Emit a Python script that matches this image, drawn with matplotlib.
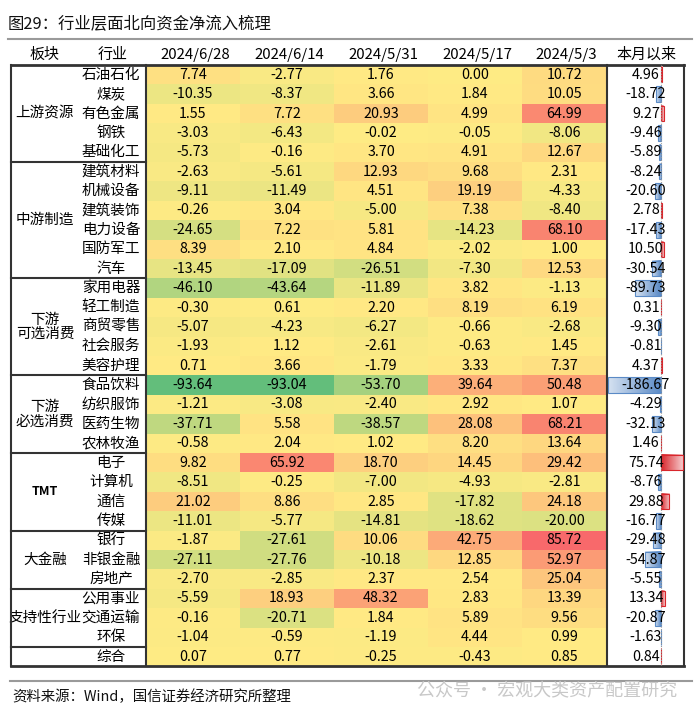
import numpy as np
import matplotlib
matplotlib.use("Agg")
import matplotlib.pyplot as plt
import matplotlib.transforms as mtransforms
from matplotlib.colors import LinearSegmentedColormap, TwoSlopeNorm

plt.rcParams["font.family"] = ["Noto Sans CJK SC", "DejaVu Sans"]

# ── Data ──────────────────────────────────────
dates = ["2024/6/28", "2024/6/14", "2024/5/31", "2024/5/17", "2024/5/3"]

sector_names = ["上游资源", "中游制造", "下游\n可选消费", "下游\n必选消费",
                "TMT", "大金融", "支持性行业", ""]
sector_sizes = [5, 6, 5, 4, 4, 3, 3, 1]

industries = ["石油石化", "煤炭", "有色金属", "钢铁", "基础化工",
              "建筑材料", "机械设备", "建筑装饰", "电力设备", "国防军工", "汽车",
              "家用电器", "轻工制造", "商贸零售", "社会服务", "美容护理",
              "食品饮料", "纺织服饰", "医药生物", "农林牧渔",
              "电子", "计算机", "通信", "传媒",
              "银行", "非银金融", "房地产",
              "公用事业", "交通运输", "环保",
              "综合"]

flow_0628 = [7.74, -10.35, 1.55, -3.03, -5.73,
             -2.63, -9.11, -0.26, -24.65, 8.39, -13.45,
             -46.10, -0.30, -5.07, -1.93, 0.71,
             -93.64, -1.21, -37.71, -0.58,
             9.82, -8.51, 21.02, -11.01,
             -1.87, -27.11, -2.70,
             -5.59, -0.16, -1.04,
             0.07]
flow_0614 = [-2.77, -8.37, 7.72, -6.43, -0.16,
             -5.61, -11.49, 3.04, 7.22, 2.10, -17.09,
             -43.64, 0.61, -4.23, 1.12, 3.66,
             -93.04, -3.08, 5.58, 2.04,
             65.92, -0.25, 8.86, -5.77,
             -27.61, -27.76, -2.85,
             18.93, -20.71, -0.59,
             0.77]
flow_0531 = [1.76, 3.66, 20.93, -0.02, 3.70,
             12.93, 4.51, -5.00, 5.81, 4.84, -26.51,
             -11.89, 2.20, -6.27, -2.61, -1.79,
             -53.70, -2.40, -38.57, 1.02,
             18.70, -7.00, 2.85, -14.81,
             10.06, -10.18, 2.37,
             48.32, 1.84, -1.19,
             -0.25]
flow_0517 = [0.00, 1.84, 4.99, -0.05, 4.91,
             9.68, 19.19, 7.38, -14.23, -2.02, -7.30,
             3.82, 8.19, -0.66, -0.63, 3.33,
             39.64, 2.92, 28.08, 8.20,
             14.45, -4.93, -17.82, -18.62,
             42.75, 12.85, 2.54,
             2.83, 5.89, 4.44,
             -0.43]
flow_0503 = [10.72, 10.05, 64.99, -8.06, 12.67,
             2.31, -4.33, -8.40, 68.10, 1.00, 12.53,
             -1.13, 6.19, -2.68, 1.45, 7.37,
             50.48, 1.07, 68.21, 13.64,
             29.42, -2.81, 24.18, -20.00,
             85.72, 52.97, 25.04,
             13.39, 9.56, 0.99,
             0.85]
month_total = [4.96, -18.72, 9.27, -9.46, -5.89,
               -8.24, -20.60, 2.78, -17.43, 10.50, -30.54,
               -89.73, 0.31, -9.30, -0.81, 4.37,
               -186.67, -4.29, -32.13, 1.46,
               75.74, -8.76, 29.88, -16.77,
               -29.48, -54.87, -5.55,
               13.34, -20.87, -1.63,
               0.84]

# ── Layout (pixels) ───────────────────────────
W, H = 700, 717
top, row_h = 65, 19.4
n = len(industries)
bottom = top + n * row_h
x_left, x_sep, x_bar0, x_right = 11, 146, 607, 684
col_edges = [146, 240, 334, 428, 522, 607]
row_edges = top + np.arange(n + 1) * row_h
row_mid = (row_edges[:-1] + row_edges[1:]) / 2
LINE = "#333333"
VAL_FS = 10.3

fig = plt.figure(figsize=(W / 100, H / 100), dpi=100)
ax = fig.add_axes([0, 0, 1, 1])
ax.set_xlim(0, W)
ax.set_ylim(H, 0)
ax.axis("off")

# title
ax.text(8, 25, "图29：行业层面北向资金净流入梳理", fontsize=11.8,
        ha="left", va="center", color="#111111", weight="medium")
ax.plot([8, 692], [39, 39], color="#9a9a9a", lw=1.5)

# headers
hdr = dict(ha="center", va="center", fontsize=10.8, weight="medium")
ax.text(45, 55, "板块", **hdr)
ax.text(113, 55, "行业", **hdr)
for j, d in enumerate(dates):
    ax.text((col_edges[j] + col_edges[j + 1]) / 2 + 2, 55, d, **hdr)
ax.text(646, 55, "本月以来", **hdr)

# heatmap (Excel style 3-colour scale)
M = np.array([flow_0628, flow_0614, flow_0531, flow_0517, flow_0503]).T
cmap = LinearSegmentedColormap.from_list(
    "gyr", ["#63BE7B", "#FFEB84", "#F8696B"])
norm = TwoSlopeNorm(vmin=M.min(), vcenter=np.median(M), vmax=M.max())
ax.pcolormesh(col_edges, row_edges, M, cmap=cmap, norm=norm,
              shading="flat", zorder=1)
for i in range(n):
    for j in range(M.shape[1]):
        ax.text((col_edges[j] + col_edges[j + 1]) / 2, row_mid[i],
                f"{M[i, j]:.2f}", ha="center", va="center",
                fontsize=VAL_FS, zorder=3)
    ax.text(111, row_mid[i], industries[i], ha="center", va="center",
            fontsize=10.5)

# sector labels and separators
start = 0
for name, size in zip(sector_names, sector_sizes):
    y_mid = (row_edges[start] + row_edges[start + size]) / 2
    if name == "TMT":
        ax.text(45, y_mid, name, ha="center", va="center", fontsize=9,
                weight="bold")
    else:
        ax.text(45, y_mid, name, ha="center", va="center", fontsize=10.5,
                linespacing=1.05)
    start += size
    if start < n:
        ax.plot([x_left, x_sep], [row_edges[start]] * 2, color=LINE, lw=1.5)

# table frame
ax.plot([x_left, x_right], [top, top], color=LINE, lw=2, zorder=4)
ax.plot([x_left, x_right], [bottom, bottom], color=LINE, lw=2, zorder=4)
for xv in [x_left, x_sep, x_bar0, x_right]:
    ax.plot([xv, xv], [top, bottom], color=LINE, lw=1.5, zorder=4)

# footer
ax.plot([10, 692], [681, 681], color="#9a9a9a", lw=1.5)
ax.text(12, 697, "资料来源：Wind，国信证券经济研究所整理", fontsize=10.4,
        ha="left", va="center", color="#111111")
ax.text(677, 690, "公众号 · 宏观大类资产配置研究", fontsize=13,
        ha="right", va="center", color="#c8c8c8")

# ── data bars for 本月以来 ─────────────────────
ax2 = fig.add_axes([x_bar0 / W, 1 - bottom / H,
                    (x_right - x_bar0) / W, (bottom - top) / H])
ax2.axis("off")
ax2.patch.set_alpha(0)
blue = LinearSegmentedColormap.from_list("b", ["#ffffff", "#5A8AC6"])
red = LinearSegmentedColormap.from_list("r", ["#ffffff", "#D9262C"])
grad = np.linspace(1, 0.25, 64).reshape(1, -1)
for i, v in enumerate(month_total):
    cm = blue if v < 0 else red
    ec = "#5A8AC6" if v < 0 else "#D9262C"
    ax2.imshow(grad, cmap=cm, vmin=0, vmax=1, aspect="auto",
               extent=(0, v, i + 0.4, i - 0.4), interpolation="bilinear")
    ax2.barh(i, v, height=0.8, fill=False, edgecolor=ec, lw=0.8)
ax2.axvline(0, color="#9a9a9a", ls=(0, (1, 1.5)), lw=0.8)
ax2.set_xlim(-190, 81)
ax2.set_ylim(n - 0.5, -0.5)

tr = mtransforms.blended_transform_factory(ax.transData, ax2.transData)
for i, v in enumerate(month_total):
    ax2.text(646, i, f"{v:.2f}", transform=tr, ha="center", va="center",
             fontsize=VAL_FS, zorder=5)

plt.savefig("out.png", dpi=100)
plt.close()
